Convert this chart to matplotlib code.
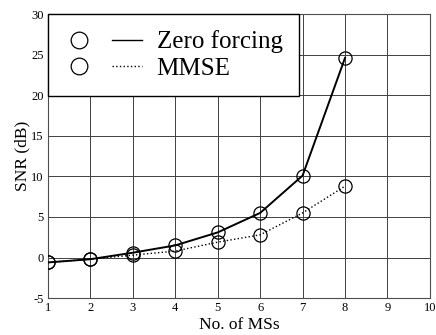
import matplotlib
matplotlib.use("Agg")
import matplotlib.pyplot as plt
from matplotlib.lines import Line2D
from matplotlib.legend_handler import HandlerTuple

plt.rcParams["font.family"] = ["Liberation Serif", "DejaVu Serif"]
plt.rcParams["axes.unicode_minus"] = False

num_ms = [1, 2, 3, 4, 5, 6, 7, 8]
snr_zf = [-0.6, -0.2, 0.6, 1.5, 3.1, 5.5, 10.1, 24.6]
snr_mmse = [-0.6, -0.2, 0.3, 0.8, 1.9, 2.8, 5.5, 8.8]

x_ticks = list(range(1, 11))
y_ticks = list(range(-5, 31, 5))

fig = plt.figure(figsize=(4.36, 3.35), dpi=100)
ax = fig.add_axes([0.110, 0.110, 0.876, 0.848])

ax.plot(num_ms, snr_zf, color="black", lw=1.4, marker="o", ms=9.5,
        mfc="none", mec="black", mew=0.9, zorder=3)
ax.plot(num_ms, snr_mmse, color="black", lw=1.0, ls=":", marker="o", ms=9.5,
        mfc="none", mec="black", mew=0.9, zorder=3)

ax.set_xlim(1, 10)
ax.set_ylim(-5, 30)
ax.set_xticks(x_ticks)
ax.set_yticks(y_ticks)
ax.tick_params(axis="both", labelsize=9, length=0, pad=3)
ax.grid(True, color="0.25", lw=0.7)
for s in ax.spines.values():
    s.set_linewidth(0.8)
    s.set_color("0.3")

ax.set_xlabel("No. of MSs", fontsize=12.5, labelpad=2)
ax.set_ylabel("SNR (dB)", fontsize=12.5, labelpad=1)

circ = Line2D([], [], ls="none", marker="o", ms=12, mfc="none", mec="black", mew=0.9)
zf_line = Line2D([], [], color="black", lw=1.0)
mmse_line = Line2D([], [], color="black", lw=1.0, ls=":")
leg = ax.legend([(circ, zf_line), (circ, mmse_line)], ["Zero forcing", "MMSE"],
                handler_map={tuple: HandlerTuple(ndivide=None, pad=0.7)},
                loc="upper left", borderaxespad=0, fontsize=18,
                handlelength=3.1, handletextpad=0.6, labelspacing=0.15,
                borderpad=0.65, fancybox=False, framealpha=1,
                edgecolor="black")
leg.get_frame().set_linewidth(1.0)
leg.set_zorder(5)

fig.savefig("out.png", dpi=100)
